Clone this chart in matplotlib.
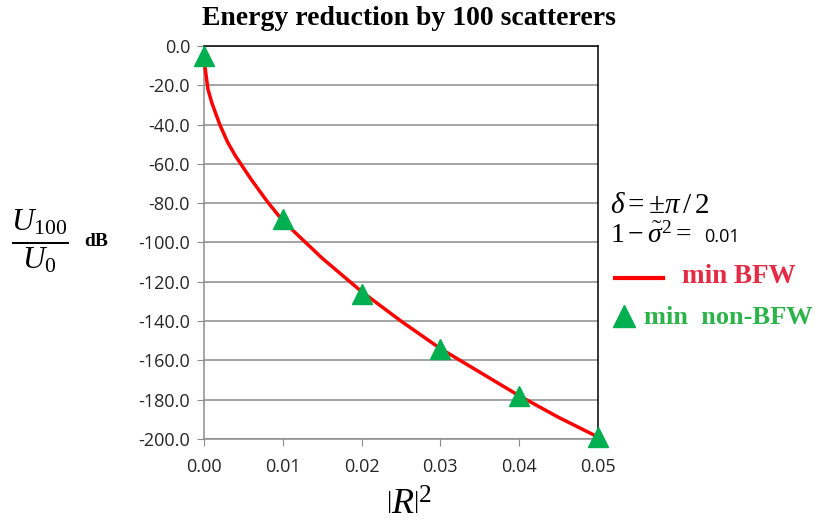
import matplotlib
matplotlib.use("Agg")
import matplotlib.pyplot as plt
from matplotlib.lines import Line2D

plt.rcParams['mathtext.fontset'] = 'custom'
plt.rcParams['mathtext.rm'] = 'Liberation Serif'
plt.rcParams['mathtext.it'] = 'Liberation Serif:italic'
plt.rcParams['mathtext.bf'] = 'Liberation Serif:bold'

# Data
curve_x = [0, 0.0005, 0.001, 0.002, 0.003, 0.004, 0.005, 0.006, 0.008, 0.01,
           0.015, 0.02, 0.025, 0.03, 0.035, 0.04, 0.045, 0.05]
curve_y = [-7, -22, -29, -40, -49, -56, -62, -68, -79, -89,
           -108, -125, -140, -154, -166, -178, -189, -199]
marker_x = [0.00, 0.01, 0.02, 0.03, 0.04, 0.05]
marker_y = [-5, -88, -126, -154, -178, -199]
x_ticks = [0.00, 0.01, 0.02, 0.03, 0.04, 0.05]
y_ticks = [0, -20, -40, -60, -80, -100, -120, -140, -160, -180, -200]

fig = plt.figure(figsize=(8.18, 5.31), dpi=100)
ax = fig.add_axes([0.2494, 0.1733, 0.731 - 0.2494, 0.9134 - 0.1733])

ax.plot(curve_x, curve_y, color='#ff0000', lw=2.5, zorder=3, clip_on=False)
ax.plot(marker_x, marker_y, linestyle='none', marker='^', markersize=15,
        color='#00b050', zorder=4, clip_on=False)

ax.set_xlim(0, 0.05)
ax.set_ylim(-200, 0)
ax.set_xticks(x_ticks)
ax.set_yticks(y_ticks)
ax.set_xticklabels([f"{v:.2f}" for v in x_ticks])
ax.set_yticklabels([f"{v:.1f}" for v in y_ticks])
ax.yaxis.grid(True, color='#8c8c8c', lw=1.1)
ax.set_axisbelow(True)
for s in ['left', 'bottom']:
    ax.spines[s].set_color('#8c8c8c')
    ax.spines[s].set_linewidth(1.1)
for s in ['top', 'right']:
    ax.spines[s].set_color('black')
    ax.spines[s].set_linewidth(1.1)
ax.tick_params(axis='both', direction='out', length=5, color='#8c8c8c',
               labelsize=13, pad=5)
for lab in ax.get_xticklabels() + ax.get_yticklabels():
    lab.set_fontfamily('Open Sans')
    lab.set_color('#262626')
ax.tick_params(axis='x', pad=9)

fig.text(0.5, 0.965, "Energy reduction by 100 scatterers", ha='center', va='center',
         fontsize=20, fontweight='bold', family='Liberation Serif')

fig.text(0.049, 0.545, r'$\frac{U_{100}}{U_0}$', ha='center', va='center', fontsize=32)
fig.text(0.117, 0.545, 'dB', ha='center', va='center', fontsize=14,
         fontweight='bold', family='Liberation Serif')

fig.text(0.5, 0.05, r'$\left|R\right|^2$', ha='center', va='center', fontsize=26)

fig.text(0.746, 0.613, r'$\delta = \pm\pi\,/\,2$', ha='left', va='center', fontsize=21)
fig.text(0.746, 0.558, r'$1 - \tilde{\sigma}^2 = $', ha='left', va='center', fontsize=20)
fig.text(0.861, 0.554, '0.01', ha='left', va='center', fontsize=13, family='Open Sans')

fig.add_artist(Line2D([0.752, 0.810], [0.476, 0.476], color='#ff0000', lw=3,
                      transform=fig.transFigure))
fig.text(0.834, 0.479, 'min BFW', ha='left', va='center', fontsize=19.5,
         fontweight='bold', family='Liberation Serif', color='#e42a44')
fig.add_artist(Line2D([0.763], [0.405], marker='^', markersize=16, color='#00b050',
                      linestyle='none', transform=fig.transFigure))
fig.text(0.787, 0.403, 'min  non-BFW', ha='left', va='center', fontsize=19,
         fontweight='bold', family='Liberation Serif', color='#2cb34a')

fig.savefig('out.png', dpi=100)
